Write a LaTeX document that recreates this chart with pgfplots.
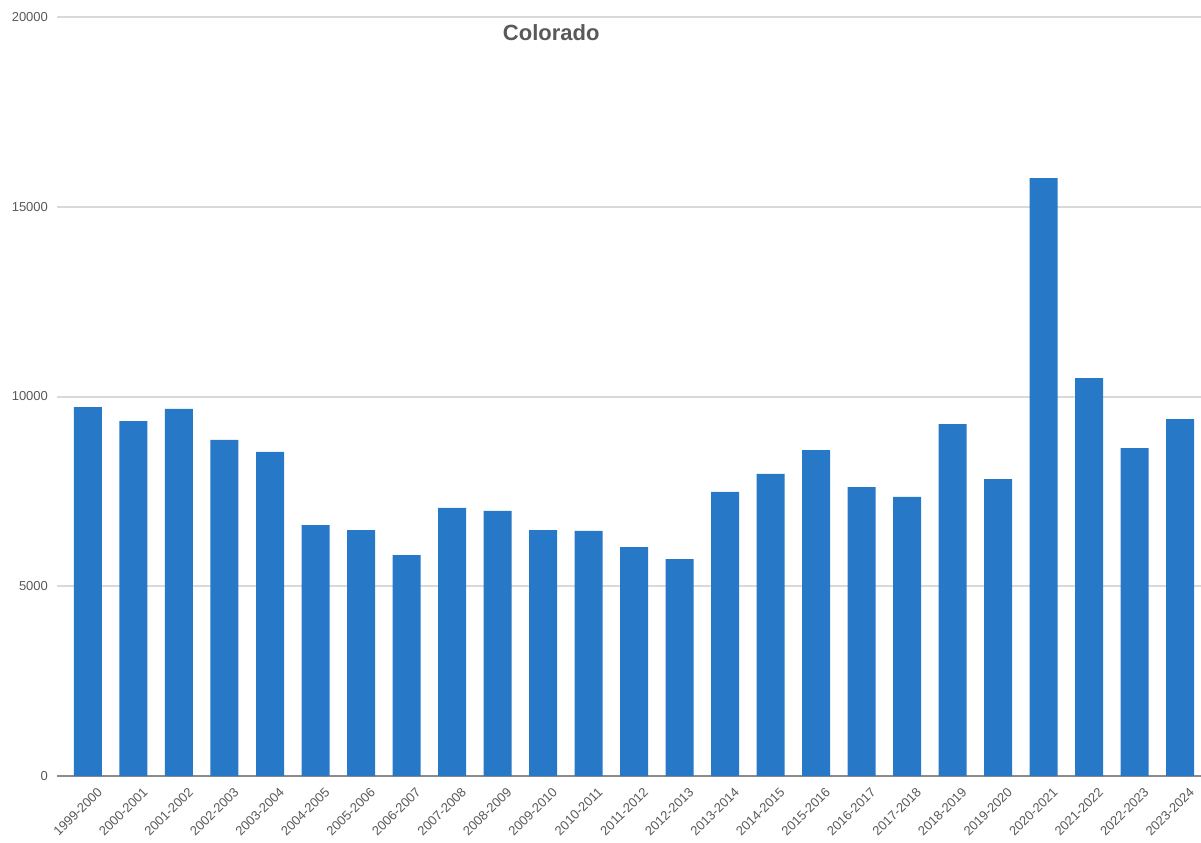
\documentclass[border=0pt]{standalone}
\usepackage{pgfplots}
\pgfplotsset{compat=1.18}
\usepackage{fontspec}
\setmainfont{Liberation Sans}
\definecolor{barblue}{RGB}{40,120,200}
\definecolor{gridgray}{RGB}{217,217,217}
\definecolor{axisgray}{RGB}{140,140,140}
\definecolor{labelgray}{RGB}{89,89,89}
\begin{document}
\begin{tikzpicture}
\path[use as bounding box] (-28.5pt,-33pt) rectangle (572pt,388pt);
\begin{axis}[
  at={(0,0)}, anchor=south west,
  scale only axis,
  width=572pt, height=379.5pt,
  xmin=-0.681, xmax=24.46,
  ymin=0, ymax=20000,
  ytick={0,5000,10000,15000,20000},
  xtick=data,
  xticklabels={1999-2000,2000-2001,2001-2002,2002-2003,2003-2004,2004-2005,2005-2006,2006-2007,2007-2008,2008-2009,2009-2010,2010-2011,2011-2012,2012-2013,2013-2014,2014-2015,2015-2016,2016-2017,2017-2018,2018-2019,2019-2020,2020-2021,2021-2022,2022-2023,2023-2024},
  x tick label style={rotate=45, anchor=north east, font=\fontsize{6.5}{7}\selectfont, text=labelgray, inner sep=0.5pt, xshift=0pt, yshift=-6pt},
  y tick label style={font=\fontsize{6.5}{7}\selectfont, text=labelgray, xshift=-1pt},
  /pgf/number format/assume math mode=true,
  scaled y ticks=false,
  yticklabel style={/pgf/number format/1000 sep={}},
  major tick length=0pt,
  ymajorgrids, grid style={gridgray, line width=1pt},
  axis x line*=bottom, axis y line*=left,
  y axis line style={draw=none},
  x axis line style={axisgray, line width=1pt, -},
  ybar, bar width=14pt,
  clip=false,
]
\addplot[fill=barblue, draw=none] coordinates {
(0,9720) (1,9354) (2,9671) (3,8854) (4,8538) (5,6614) (6,6482) (7,5823) (8,7062) (9,6983)
(10,6482) (11,6456) (12,6034) (13,5718) (14,7484) (15,7958) (16,8590) (17,7615) (18,7352)
(19,9275) (20,7826) (21,15757) (22,10487) (23,8643) (24,9407)
};
\node[font=\fontsize{11}{13}\selectfont\bfseries, text=labelgray] at (rel axis cs:0.432,0.980) {Colorado};
\end{axis}
\end{tikzpicture}
\end{document}
